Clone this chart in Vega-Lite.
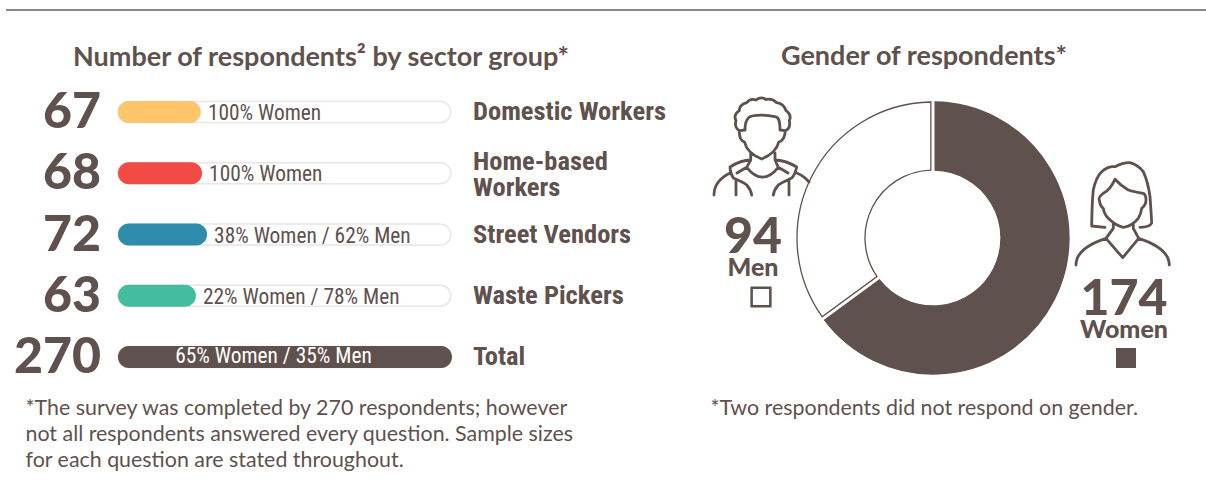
{
"$schema":"https://vega.github.io/schema/vega-lite/v6.json",
"background":"white","padding":0,"autosize":{"type":"pad"},
"config":{"view":{"stroke":null},"font":"Lato","title":{"font":"Lato","fontWeight":"bold","fontSize":27,"color":"#5f514d","anchor":"start","frame":"group"}},
"spacing":23,
"datasets":{
"sectors":[
{"sector":"Domestic Workers","name":"Domestic Workers","count":67,"label":"100% Women"},
{"sector":"Home-based Workers","name":"Home-based\nWorkers","count":68,"label":"100% Women"},
{"sector":"Street Vendors","name":"Street Vendors","count":72,"label":"38% Women / 62% Men"},
{"sector":"Waste Pickers","name":"Waste Pickers","count":63,"label":"22% Women / 78% Men"},
{"sector":"Total","name":"Total","count":270,"label":"65% Women / 35% Men"}],
"gender":[
{"gender":"Women","count":174,"rank":1},
{"gender":"Men","count":94,"rank":2}]
},
"vconcat":[
{"width":1206,"height":20,"data":{"values":[{"a":1}]},
 "mark":{"type":"rule","color":"#6a5d59","strokeWidth":1.4},
 "encoding":{"x":{"datum":0.005,"type":"quantitative","scale":{"domain":[0,1]},"axis":null},"x2":{"datum":1}}},
{"spacing":0,"resolve":{"scale":{"color":"independent"}},"hconcat":[
 {"width":680,"height":390,
  "title":{"text":"Number of respondents² by sector group*","dx":73,"offset":13},
  "data":{"name":"sectors"},
  "encoding":{
   "y":{"field":"sector","type":"nominal","scale":{"type":"point","domain":["Domestic Workers","Home-based Workers","Street Vendors","Waste Pickers","Total"],"range":[27,272],"padding":0},"axis":null},
   "x":{"field":"count","type":"quantitative","scale":{"domain":[-95.39,454.3],"nice":false,"zero":false},
    "axis":{"orient":"bottom","domain":false,"ticks":false,"labels":false,"grid":false,
     "title":["*The survey was completed by 270 respondents; however","not all respondents answered every question. Sample sizes","for each question are stated throughout."],
     "titleX":25,"titleY":-61,"titleAlign":"left","titleBaseline":"alphabetic","titleFont":"Lato","titleFontWeight":"normal","titleFontSize":21.4,"titleColor":"#5f514d","titleLineHeight":26}}
  },
  "layer":[
   {"mark":{"type":"bar","size":21,"cornerRadius":10.5,"fill":"white","stroke":"#e8e6e6","strokeWidth":1.5},
    "encoding":{"x":{"datum":269,"type":"quantitative"},"x2":{"datum":0}}},
   {"mark":{"type":"bar","size":22,"cornerRadius":11},
    "encoding":{"x2":{"datum":0},"color":{"field":"sector","type":"nominal","legend":null,"scale":{"domain":["Domestic Workers","Home-based Workers","Street Vendors","Waste Pickers","Total"],"range":["#fec56b","#f24a44","#2e8cab","#43bd9d","#5f514d"]}}}},
   {"transform":[{"filter":"datum.sector !== 'Total'"}],
    "mark":{"type":"text","align":"left","baseline":"middle","dx":7,"dy":2,"font":"Roboto Condensed, Roboto","fontSize":21.4,"color":"#5f514d"},
    "encoding":{"text":{"field":"label"}}},
   {"transform":[{"filter":"datum.sector === 'Total'"}],
    "mark":{"type":"text","align":"center","baseline":"middle","dx":-11.5,"dy":0,"font":"Roboto Condensed, Roboto","fontSize":21.4,"color":"white"},
    "encoding":{"x":{"datum":135,"type":"quantitative"},"text":{"field":"label"}}},
   {"mark":{"type":"text","align":"right","baseline":"middle","dx":-17,"dy":1,"font":"Lato","fontWeight":900,"fontSize":50,"color":"#5f514d"},
    "encoding":{"x":{"datum":0,"type":"quantitative"},"text":{"field":"count"}}},
   {"transform":[{"filter":"datum.sector !== 'Home-based Workers'"}],
    "mark":{"type":"text","align":"left","baseline":"middle","dx":21,"dy":0,"font":"Roboto Condensed, Roboto","fontWeight":"bold","fontSize":26.5,"color":"#5f514d"},
    "encoding":{"x":{"datum":270,"type":"quantitative"},"text":{"field":"name"}}},
   {"transform":[{"filter":"datum.sector === 'Home-based Workers'"}],
    "mark":{"type":"text","align":"left","baseline":"middle","dx":21,"dy":-11,"font":"Roboto Condensed, Roboto","fontWeight":"bold","fontSize":26.5,"lineHeight":26,"lineBreak":"\n","color":"#5f514d"},
    "encoding":{"x":{"datum":270,"type":"quantitative"},"text":{"field":"name"}}}
  ]},
 {"width":526,"height":390,
  "title":{"text":"Gender of respondents*","dx":101,"offset":14},
  "data":{"name":"gender"},
  "encoding":{
   "x":{"field":"gender","type":"nominal","scale":{"type":"point","domain":["Men","Women"],"range":[73,444],"padding":0},
    "axis":{"orient":"bottom","domain":false,"ticks":false,"labels":false,"grid":false,
     "title":"*Two respondents did not respond on gender.","titleX":30,"titleY":-61,"titleAlign":"left","titleBaseline":"alphabetic","titleFont":"Lato","titleFontWeight":"normal","titleFontSize":21.4,"titleColor":"#5f514d"}},
   "y":{"field":"gender","type":"nominal","scale":{"type":"point","domain":["Men","Women"],"range":[63,125],"padding":0},"axis":null}
  },
  "layer":[
   {"mark":{"type":"arc","x":253,"y":153,"outerRadius":136,"innerRadius":68,"padAngle":0.028,"stroke":"#5f514d","strokeWidth":1.3},
    "encoding":{"x":{"value":253},"y":{"value":153},
     "theta":{"field":"count","type":"quantitative","stack":true},
     "order":{"field":"rank","type":"ordinal"},
     "color":{"field":"gender","type":"nominal","legend":null,"scale":{"domain":["Women","Men"],"range":["#5f514d","white"]}}}},
   {"transform":[{"filter":"datum.gender === 'Men'"}],
    "mark":{"type":"point","size":4,"xOffset":8,"filled":false,"opacity":1,"strokeWidth":2.8,"strokeCap":"round","strokeJoin":"round","color":"#5f514d",
     "shape":"M-21.7 -17.3 Q-27 -21 -25 -27.3 Q-28 -33 -21.7 -37.3 Q-22 -43 -14.3 -45.3 Q-11 -50 -5 -48 Q0 -52 5 -48.5 Q11 -50 15.7 -45.3 Q23 -44 25 -37.3 Q31 -33 28.3 -27.3 Q30 -20 24.3 -17.3 M-21.7 -17.3 L-16 -18 C-16 -27 -14 -31 -9 -32 Q2 -34 14 -31.3 C18.5 -31 19 -25 19 -18 L24.3 -17.3 M-21.7 -17.3 Q-22 -8 -16.5 -6 Q-14 5 0.7 11 Q15 5 17.8 -6 Q24 -8 24.3 -17.3 M-10.3 5 L-10.3 12 M14 5 L14 12 M-10.3 12 Q-20 12 -31 19 Q-31 25 -27.7 30 Q-18 34 -14.3 37 Q-10 42 -9.3 47 M-10.3 12 L-14.3 19.3 Q1.5 39 17.3 19.3 L14 12 M-14.3 19.3 L-24 25 M17.3 19.3 L27 25 M14 12 Q24 12 35.7 19 Q34 27 30.7 30 Q22 34 17.3 37 Q13 42 12.3 47 M-47 47 Q-47 33 -31 25 M35.7 25 Q43 28 48 34 M-25 32 L-25 47 M28 32 L28 47"}},
   {"transform":[{"filter":"datum.gender === 'Women'"}],
    "mark":{"type":"point","size":4,"xOffset":2,"filled":false,"opacity":1,"strokeWidth":2.8,"strokeCap":"round","strokeJoin":"round","color":"#5f514d",
     "shape":"M-21 17.3 L-34.3 16 Q-34 -8 -32.7 -20 Q-30 -33 -24.3 -38.3 Q-18 -44 -11 -43.3 Q-3 -47.5 4 -47.3 Q12 -45 17.3 -38.3 Q22 -28 24 -13.3 Q25 0 25.7 13 Q24 17 14 17.3 M-11 -30.7 Q-16 -20 -22.7 -16.7 Q-28 -12 -26.7 -10 Q-26 -4 -22.7 -1.7 Q-22 4 -17.7 8.3 Q-10 16 -2.7 17.3 Q6 16 12.3 8.3 Q15 4 15.7 -1.7 Q20 -5 20 -10 Q20 -15 17.3 -16.7 Q8 -18 2.3 -20 Q-5 -24 -11 -30.7 M-12.7 13.3 L-12.7 18.3 L-20 28.3 L-3.3 47.7 L12.7 28.3 L7.3 18.3 L7.3 13.3 M-50 55 Q-50 38 -20 28.3 M43.3 55 Q43 38 12.7 28.3"}},
   {"mark":{"type":"text","align":"center","baseline":"alphabetic","dy":105,"font":"Lato","fontWeight":900,"fontSize":50,"color":"#5f514d"},
    "encoding":{"text":{"field":"count"}}},
   {"mark":{"type":"text","align":"center","baseline":"alphabetic","dy":128,"font":"Lato","fontWeight":900,"fontSize":25,"color":"#5f514d"},
    "encoding":{"text":{"field":"gender"}}},
   {"transform":[{"filter":"datum.gender === 'Men'"}],
    "mark":{"type":"point","shape":"square","size":350,"filled":true,"fill":"white","stroke":"#5f514d","strokeWidth":2.5,"opacity":1,"xOffset":8,"yOffset":149}},
   {"transform":[{"filter":"datum.gender === 'Women'"}],
    "mark":{"type":"point","shape":"square","size":400,"filled":true,"fill":"#5f514d","opacity":1,"xOffset":2,"yOffset":148}}
  ]}
]}
]}
